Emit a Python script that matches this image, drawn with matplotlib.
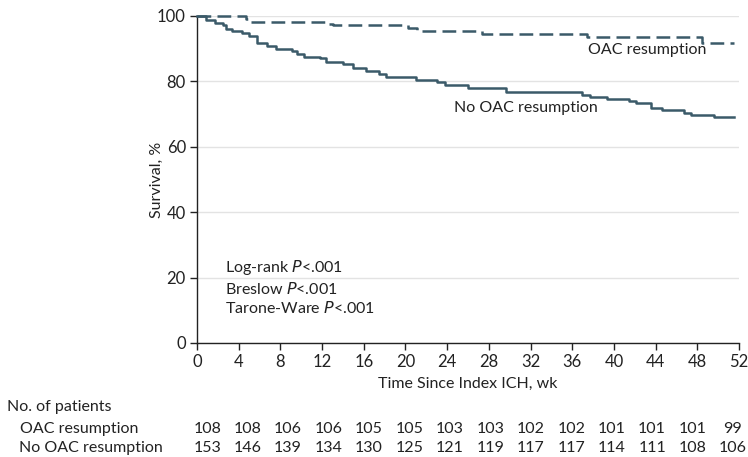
import numpy as np
import matplotlib
matplotlib.use('Agg')
import matplotlib.pyplot as plt
import matplotlib.transforms as mtransforms

plt.rcParams['font.family'] = ['Lato', 'DejaVu Sans']

# Kaplan-Meier steps (weeks, survival %)
oac_weeks = [0, 4.7, 5.2, 12.7, 13.0, 20.2, 21.1, 27.3, 37.4, 48.4, 51.5]
oac_surv = [100, 99.2, 98.2, 97.6, 97.2, 96.3, 95.4, 94.4, 93.5, 91.7, 91.7]

no_oac_weeks = [0, 0.9, 1.7, 2.5, 2.8, 3.4, 4.3, 5.0, 5.8, 6.7, 7.6, 9.1, 9.6, 10.3,
                11.8, 12.4, 14.0, 15.0, 16.2, 17.5, 18.1, 21.0, 23.0, 23.8, 26.0,
                29.6, 36.9, 37.7, 39.3, 41.4, 42.1, 43.6, 44.6, 46.7, 47.4, 49.6, 51.5]
no_oac_surv = [100, 98.7, 97.9, 97.1, 96.1, 95.4, 94.8, 94.0, 91.7, 90.8, 90.0, 89.3,
               88.5, 87.6, 87.1, 86.0, 85.2, 84.2, 83.3, 82.4, 81.3, 80.4, 79.7, 79.0,
               78.0, 76.8, 75.8, 75.1, 74.5, 73.9, 73.3, 71.9, 71.1, 70.4, 69.8, 69.2, 69.2]

x_ticks = list(range(0, 53, 4))
at_risk_oac = [108, 108, 106, 106, 105, 105, 103, 103, 102, 102, 101, 101, 101, 99]
at_risk_no_oac = [153, 146, 139, 134, 130, 125, 121, 119, 117, 117, 114, 111, 108, 106]

line_color = '#3b5a69'
text_color = '#222222'
fs = 11.5

fig = plt.figure(figsize=(7.48, 4.57), dpi=100)
ax = fig.add_axes([0.2634, 0.2495, 0.7246, 0.7155])

ax.step(oac_weeks, oac_surv, where='post', color=line_color, lw=1.8,
        dashes=(5.5, 2.5), clip_on=False, zorder=3)
ax.step(no_oac_weeks, no_oac_surv, where='post', color=line_color, lw=1.8,
        clip_on=False, zorder=3)

ax.set_xlim(0, 52)
ax.set_ylim(0, 100)
ax.set_xticks(x_ticks)
ax.set_yticks([0, 20, 40, 60, 80, 100])
ax.yaxis.grid(True, color='#e3e3e3', lw=1)
ax.set_axisbelow(True)
for s in ['top', 'right']:
    ax.spines[s].set_visible(False)
for s in ['left', 'bottom']:
    ax.spines[s].set_color('#222222')
    ax.spines[s].set_linewidth(1)
ax.tick_params(direction='out', length=5, width=1, color='#222222',
               labelsize=12, labelcolor=text_color, pad=3)

ax.set_xlabel('Time Since Index ICH, wk', fontsize=fs, color=text_color, labelpad=5)
ax.set_ylabel('Survival, %', fontsize=fs, color=text_color)
ax.yaxis.set_label_coords(-0.062, 0.5)

ax.text(37.5, 89.6, 'OAC resumption', fontsize=fs, color=text_color, va='center')
ax.text(24.7, 71.9, 'No OAC resumption', fontsize=fs, color=text_color, va='center')

stats = [('Log-rank ', 23.0), ('Breslow ', 16.5), ('Tarone-Ware ', 10.7)]
for name, yv in stats:
    ax.text(2.7, yv, name + r'$\it{P}$' + '<.001', fontsize=fs, color=text_color,
            va='center')

# number at risk table
trans = mtransforms.blended_transform_factory(ax.transData, fig.transFigure)
fig.text(7 / 748, 1 - 407 / 457, 'No. of patients', fontsize=fs, color=text_color,
         va='center')
fig.text(20 / 748, 1 - 429 / 457, 'OAC resumption', fontsize=fs, color=text_color,
         va='center')
fig.text(19 / 748, 1 - 448 / 457, 'No OAC resumption', fontsize=fs, color=text_color,
         va='center')
col_x = 0.98 + np.arange(len(x_ticks)) * 3.88
for cx, a, b in zip(col_x, at_risk_oac, at_risk_no_oac):
    ax.text(cx, 1 - 429 / 457, str(a), transform=trans, fontsize=fs, color=text_color,
            ha='center', va='center')
    ax.text(cx, 1 - 448 / 457, str(b), transform=trans, fontsize=fs, color=text_color,
            ha='center', va='center')

fig.savefig('out.png', dpi=100)
